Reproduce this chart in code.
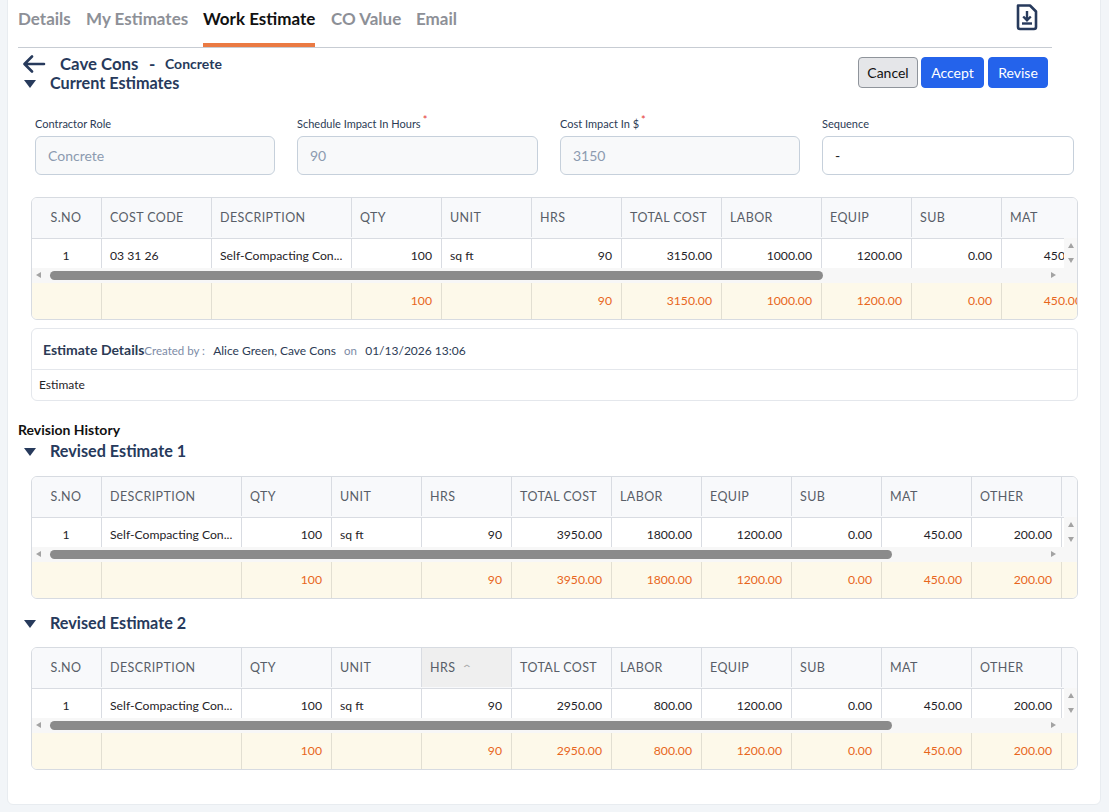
<!DOCTYPE html>
<html>
<head>
<meta charset="utf-8">
<script src="https://cdn.jsdelivr.net/npm/chart.js"></script>
<style>
  html,body{margin:0;padding:0;}
  body{width:1109px;height:812px;background:#f2f5f8;font-family:Lato,"Open Sans",sans-serif;position:relative;overflow:hidden;}
  .abs{position:absolute;white-space:nowrap;}
  #card{position:absolute;left:7px;top:-10px;width:1094px;height:815px;background:#fff;border-radius:6px;border:1px solid #e8ecf0;box-sizing:border-box;}
  .tab{position:absolute;top:8px;font-size:17px;font-weight:700;color:#8d9097;line-height:22px;}
  .tab.active{color:#111;}
  .navy{color:#273a5c;}
  .lbl{position:absolute;font-size:11px;color:#2c3b55;line-height:14px;}
  .lbl sup{color:#e53935;font-size:11px;margin-left:2px;vertical-align:4px;line-height:0;}
  .inp{position:absolute;height:39px;border:1px solid #c6d0db;border-radius:6px;background:#f8f9fa;box-sizing:border-box;font-size:14px;color:#8c9bb0;padding-left:12px;line-height:37px;}
  .btn{position:absolute;top:57px;height:31px;border-radius:4px;font-size:14px;line-height:29px;text-align:center;box-sizing:border-box;}
  .tbl{position:absolute;left:31px;width:1047px;border:1px solid #d7dbe1;border-radius:6px;overflow:hidden;box-sizing:border-box;background:#fff;}
  .row{position:absolute;left:0;display:flex;}
  .cell{box-sizing:border-box;flex:none;border-right:1px solid #d9dce2;overflow:hidden;white-space:nowrap;padding:0 9px 0 8px;}
  .hdr{background:#f8f9fb;height:40px;border-bottom:1px solid #d9dce2;top:0;}
  .hdr .cell{height:39px;line-height:39px;font-size:12.5px;color:#585e68;letter-spacing:0.4px;}
  .body .cell{height:36px;line-height:36px;font-size:12.2px;color:#1f2328;}
  .foot{background:#fdf9ea;}
  .foot .cell{height:36px;line-height:36px;font-size:12.2px;color:#e8661c;border-right-color:#e2dfd2;}
  .c{text-align:center;} .l{text-align:left;} .r{text-align:right;}
  .hx{position:absolute;height:15px;background:#f7f7f7;}
  .sec{position:absolute;font-size:16.2px;font-weight:700;color:#273a5c;line-height:22px;}
  .tri{position:absolute;width:0;height:0;border-left:6px solid transparent;border-right:6px solid transparent;border-top:8px solid #273a5c;}
</style>
</head>
<body>
<div id="card"></div>
<div id="root"></div>
<script>
// ---------------- data ----------------
const tabLabels = ['Details', 'My Estimates', 'Work Estimate', 'CO Value', 'Email'];
const activeTab = 'Work Estimate';
const companyName = 'Cave Cons';
const roleName = 'Concrete';
const fieldLabels = ['Contractor Role', 'Schedule Impact In Hours', 'Cost Impact In $', 'Sequence'];
const fieldRequired = [false, true, true, false];
const fieldValues = ['Concrete', '90', '3150', '-'];
const buttonLabels = ['Cancel', 'Accept', 'Revise'];

const currentHeaders = ['S.NO', 'COST CODE', 'DESCRIPTION', 'QTY', 'UNIT', 'HRS', 'TOTAL COST', 'LABOR', 'EQUIP', 'SUB', 'MAT', 'OTHER'];
const currentRow     = ['1', '03 31 26', 'Self-Compacting Con...', '100', 'sq ft', '90', '3150.00', '1000.00', '1200.00', '0.00', '450.00', '500.00'];
const currentTotals  = ['', '', '', '100', '', '90', '3150.00', '1000.00', '1200.00', '0.00', '450.00', '500.00'];

const revisedHeaders = ['S.NO', 'DESCRIPTION', 'QTY', 'UNIT', 'HRS', 'TOTAL COST', 'LABOR', 'EQUIP', 'SUB', 'MAT', 'OTHER', ''];
const revised1Row    = ['1', 'Self-Compacting Con...', '100', 'sq ft', '90', '3950.00', '1800.00', '1200.00', '0.00', '450.00', '200.00', ''];
const revised1Totals = ['', '', '100', '', '90', '3950.00', '1800.00', '1200.00', '0.00', '450.00', '200.00', ''];
const revised2Row    = ['1', 'Self-Compacting Con...', '100', 'sq ft', '90', '2950.00', '800.00', '1200.00', '0.00', '450.00', '200.00', ''];
const revised2Totals = ['', '', '100', '', '90', '2950.00', '800.00', '1200.00', '0.00', '450.00', '200.00', ''];

const detailsTitle = 'Estimate Details';
const createdByLabel = 'Created by :';
const createdBy = 'Alice Green, Cave Cons';
const onLabel = 'on';
const createdAt = '01/13/2026 13:06';
const detailsBody = 'Estimate';
const historyTitle = 'Revision History';
const sectionTitles = ['Current Estimates', 'Revised Estimate 1', 'Revised Estimate 2'];

// ---------------- layout ----------------
const root = document.getElementById('root');
function el(tag, cls, style, html) {
  const e = document.createElement(tag);
  if (cls) e.className = cls;
  if (style) e.style.cssText = style;
  if (html !== undefined) e.innerHTML = html;
  root.appendChild(e);
  return e;
}

// tabs
const tabX = [18, 86, 203, 331, 416];
tabLabels.forEach((t, i) => {
  el('div', 'tab' + (t === activeTab ? ' active' : ''), `left:${tabX[i]}px`, t);
});
el('div', 'abs', 'left:18px;top:47px;width:1034px;height:1px;background:#c7ccd3');
el('div', 'abs', 'left:203px;top:43px;width:112px;height:4px;background:#ea7a43');

// download icon
el('div', 'abs', 'left:1014px;top:3px', `<svg width="26" height="28" viewBox="0 0 26 28"><path d="M4 2.5 H16 L22 8.5 V24 a2 2 0 0 1 -2 2 H6 a2 2 0 0 1 -2 -2 Z" fill="none" stroke="#273a5c" stroke-width="2.6" stroke-linejoin="round"/><path d="M13 8 V17 M9.2 13.5 L13 17.3 L16.8 13.5" fill="none" stroke="#273a5c" stroke-width="2.4"/><path d="M8 20.5 H18" stroke="#273a5c" stroke-width="2.4"/></svg>`);

// back arrow + title
el('div', 'abs', 'left:22px;top:55px', `<svg width="24" height="18" viewBox="0 0 24 18"><path d="M22 9 H3 M10 1.5 L2.5 9 L10 16.5" fill="none" stroke="#273a5c" stroke-width="2.6" stroke-linecap="round" stroke-linejoin="round"/></svg>`);
el('div', 'abs navy', 'left:60px;top:53px;font-size:16.8px;font-weight:700;line-height:22px', companyName);
el('div', 'abs navy', 'left:149px;top:53px;font-size:17px;font-weight:700;line-height:22px', '-');
el('div', 'abs navy', 'left:165px;top:55px;font-size:14px;font-weight:700;line-height:18px', roleName);

// section headers
const secY = [72, 440, 612];
sectionTitles.forEach((s, i) => {
  el('div', 'tri', `left:24px;top:${secY[i] + 8}px`);
  el('div', 'sec', `left:50px;top:${secY[i]}px`, s);
});

// buttons
const btnX = [858, 921, 988], btnW = [60, 63, 60];
buttonLabels.forEach((b, i) => {
  const st = i === 0 ? 'background:#e5e6e9;border:1px solid #8f949b;color:#111;' : 'background:#2463eb;color:#fff;border:1px solid #2463eb;';
  el('div', 'btn', `left:${btnX[i]}px;width:${btnW[i]}px;${st}`, b);
});

// fields
const fieldX = [35, 297, 560, 822], fieldW = [240, 241, 240, 252];
fieldLabels.forEach((f, i) => {
  el('div', 'lbl', `left:${fieldX[i]}px;top:117px`, f + (fieldRequired[i] ? '<sup>*</sup>' : ''));
  const white = i === 3;
  el('div', 'inp', `left:${fieldX[i]}px;top:136px;width:${fieldW[i]}px;${white ? 'background:#fff;color:#222;' : ''}`, fieldValues[i]);
});

// tables
function makeTable(top, headers, widths, aligns, row, totals, thumbEnd, sortedCol) {
  const t = el('div', 'tbl', `top:${top}px;height:123px`);
  const mk = (cls, y, vals, isHdr) => {
    const r = document.createElement('div');
    r.className = 'row ' + cls;
    r.style.top = y + 'px';
    vals.forEach((v, i) => {
      const c = document.createElement('div');
      let a = aligns[i];
      if (isHdr) a = i === 0 ? 'c' : 'l';
      c.className = 'cell ' + a;
      c.style.width = widths[i] + 'px';
      if (isHdr && i === sortedCol) {
        c.style.background = '#efefef';
        c.innerHTML = v + ' <span style="font-size:10px;color:#aaa;margin-left:4px;display:inline-block;transform:scaleX(1.4)">&#8963;</span>';
      } else c.textContent = v;
      r.appendChild(c);
    });
    t.appendChild(r);
    return r;
  };
  mk('hdr', 0, headers, true);
  mk('body', 40, row, false);
  mk('foot', 85, totals, false);
  // horizontal scrollbar
  const hx = document.createElement('div');
  hx.className = 'hx';
  hx.style.cssText += 'left:0;top:70px;width:1046px;';
  t.appendChild(hx);
  const add = (css) => { const d = document.createElement('div'); d.style.cssText = css; t.appendChild(d); return d; };
  add('position:absolute;left:4px;top:74px;width:0;height:0;border-top:3.5px solid transparent;border-bottom:3.5px solid transparent;border-right:5px solid #a3a3a3;');
  add(`position:absolute;left:18px;top:73px;width:${thumbEnd - 49}px;height:9px;border-radius:5px;background:#8b8b8b;`);
  add('position:absolute;left:1019px;top:74px;width:0;height:0;border-top:3.5px solid transparent;border-bottom:3.5px solid transparent;border-left:5px solid #a3a3a3;');
  // vertical scrollbar
  add('position:absolute;left:1032px;top:40px;width:15px;height:30px;background:#f7f7f7;');
  add('position:absolute;left:1036px;top:45px;width:0;height:0;border-left:3.5px solid transparent;border-right:3.5px solid transparent;border-bottom:5px solid #a3a3a3;');
  add('position:absolute;left:1036px;top:60px;width:0;height:0;border-left:3.5px solid transparent;border-right:3.5px solid transparent;border-top:5px solid #a3a3a3;');
  return t;
}

const currentWidths = [70, 110, 140, 90, 90, 90, 100, 100, 90, 90, 90, 90];
const currentAligns = ['c', 'l', 'l', 'r', 'l', 'r', 'r', 'r', 'r', 'r', 'r', 'r'];
const revisedWidths = [70, 140, 90, 90, 90, 100, 90, 90, 90, 90, 90, 90];
const revisedAligns = ['c', 'l', 'r', 'l', 'r', 'r', 'r', 'r', 'r', 'r', 'r', 'l'];

makeTable(197, currentHeaders, currentWidths, currentAligns, currentRow, currentTotals, 822, -1);
makeTable(476, revisedHeaders, revisedWidths, revisedAligns, revised1Row, revised1Totals, 891, -1);
makeTable(647, revisedHeaders, revisedWidths, revisedAligns, revised2Row, revised2Totals, 891, 4);

// estimate details box
el('div', 'abs', 'left:31px;top:328px;width:1047px;height:73px;border:1px solid #e4e7ec;border-radius:6px;box-sizing:border-box');
el('div', 'abs', 'left:32px;top:369px;width:1045px;height:1px;background:#e4e7ec');
el('div', 'abs', 'left:43px;top:340px;line-height:18px',
  `<span style="font-size:14px;font-weight:700;color:#2c3b55">${detailsTitle}</span><span style="font-size:11.5px;color:#7d8ba6">${createdByLabel}</span>&nbsp;&nbsp;<span style="font-size:12px;color:#2c3b55">${createdBy}</span>&nbsp;&nbsp;<span style="font-size:11.5px;color:#7d8ba6">${onLabel}</span>&nbsp;&nbsp;<span style="font-size:12px;color:#2c3b55">${createdAt}</span>`);
el('div', 'abs', 'left:39px;top:377px;font-size:12px;color:#1f2328;line-height:16px', detailsBody);

el('div', 'abs', 'left:18px;top:421px;font-size:14px;font-weight:700;color:#111;line-height:17px', historyTitle);
</script>
</body>
</html>
